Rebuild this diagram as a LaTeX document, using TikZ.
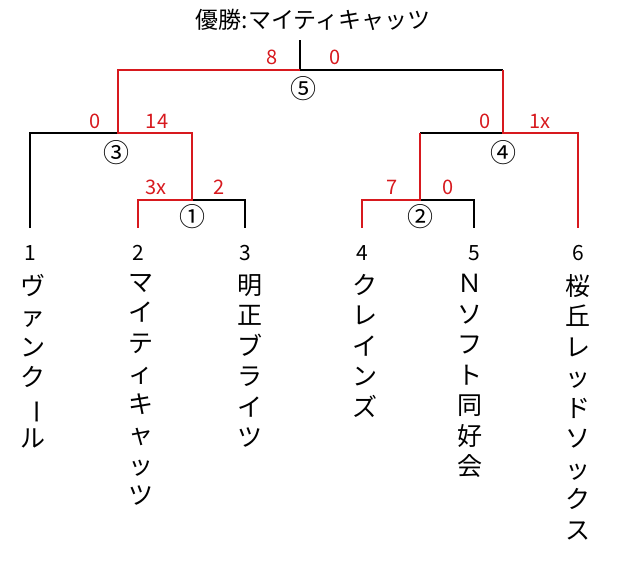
\documentclass[tikz,border=0pt]{standalone}
\usepackage{fontspec}
\setmainfont{Noto Sans CJK JP}
\usepackage{graphicx}
\definecolor{win}{RGB}{215,25,30}
\newcommand{\vbar}{\rotatebox[origin=c]{-90}{ー}}
\begin{document}
\begin{tikzpicture}[x=1pt,y=-1pt,
  ln/.style={line width=2.6pt,black},
  rl/.style={line width=2.6pt,win},
  sc/.style={text=win,font=\fontsize{20}{20}\selectfont,inner sep=0pt},
  cn/.style={font=\fontsize{26}{26}\selectfont,inner sep=0pt},
  num/.style={font=\fontsize{21}{21}\selectfont,inner sep=0pt},
  nm/.style={font=\fontsize{25}{30.5}\selectfont,align=center,anchor=north,inner sep=0pt}]
\useasboundingbox (0,0) rectangle (633,562);
\node[font=\fontsize{23}{23}\selectfont,inner sep=0pt] (title) at (313,20) {優勝:マイティキャッツ};
% coordinates
\coordinate (t) at (300,40);
\coordinate (f) at (300,70);
\coordinate (fl) at (118,70); \coordinate (fr) at (503,70);
\coordinate (sl) at (118,133); \coordinate (sr) at (503,133);
\coordinate (sll) at (30,133); \coordinate (slr) at (192,133);
\coordinate (srl) at (420,133); \coordinate (srr) at (578,133);
\coordinate (m1) at (192,200); \coordinate (m1l) at (138,200); \coordinate (m1r) at (245,200);
\coordinate (m2) at (420,200); \coordinate (m2l) at (362,200); \coordinate (m2r) at (474,200);
\foreach \i/\x in {1/30,2/138,3/245,4/362,5/474,6/578}{\coordinate (e\i) at (\x,228);}
% black lines
\draw[ln] (t) -- (f) -- (fr);
\draw[ln] (e1) -- (sll) -- (sl);
\draw[ln] (m1) -- (m1r) -- (e3);
\draw[ln] (srl) -- (sr);
\draw[ln] (m2) -- (m2r) -- (e5);
% red lines
\draw[rl] (f) -- (fl) -- (sl) -- (slr) -- (m1) -- (m1l) -- (e2);
\draw[rl] (fr) -- (sr) -- (srr) -- (e6);
\draw[rl] (srl) -- (m2) -- (m2l) -- (e4);
% scores
\node[sc] (s8) at (272,57) {8}; \node[sc] (s0a) at (335,57) {0};
\node[sc] (s3a) at (95,121) {0}; \node[sc] (s3b) at (157,121) {14};
\node[sc] (s1a) at (156,187) {3x}; \node[sc] (s1b) at (219,187) {2};
\node[sc] (s4a) at (485,121) {0}; \node[sc] (s4b) at (540,121) {1x};
\node[sc] (s2a) at (392,187) {7}; \node[sc] (s2b) at (448,187) {0};
% circled
\node[cn] (c5) at (303,89) {⑤};
\node[cn] (c3) at (116,153) {③};
\node[cn] (c1) at (192,217) {①};
\node[cn] (c4) at (503,153) {④};
\node[cn] (c2) at (420,217) {②};
% team numbers
\foreach \i/\x in {1/30,2/138,3/245,4/362,5/474,6/578}{\node[num] (n\i) at (\x,253) {\i};}
% names
\node[nm] (t1) at (33,274) {ヴ\\ァ\\ン\\ク\\\vbar\\ル};
\node[nm] (t2) at (141,274) {マ\\イ\\テ\\ィ\\キ\\ャ\\ッ\\ツ};
\node[nm] (t3) at (250,274) {明\\正\\ブ\\ラ\\イ\\ツ};
\node[nm] (t4) at (365,274) {ク\\レ\\イ\\ン\\ズ};
\node[nm] (t5) at (470,274) {Ｎ\\ソ\\フ\\ト\\同\\好\\会};
\node[nm] (t6) at (578,274) {桜\\丘\\レ\\ッ\\ド\\ソ\\ッ\\ク\\ス};
\end{tikzpicture}
\end{document}
